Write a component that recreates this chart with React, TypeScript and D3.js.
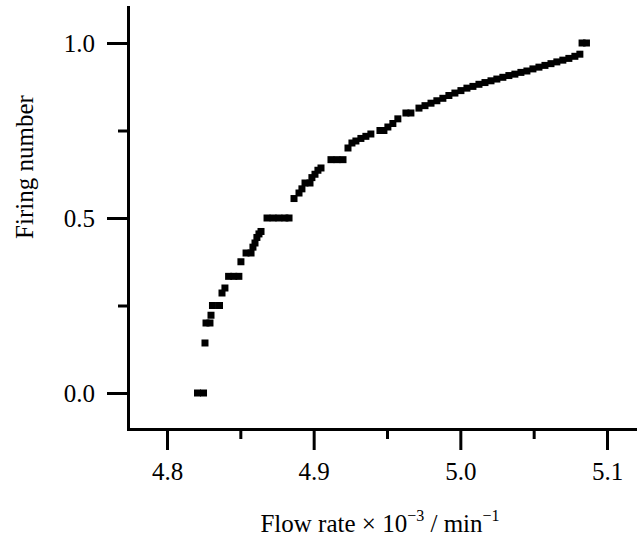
import React, { useEffect, useRef } from 'react';
import * as d3 from 'd3';

// flow rate (x 10^-3 / min^-1) and firing number
const flowRate = [
  4.8208, 4.8249, 4.8259, 4.8266, 4.8293, 4.8300, 4.8310, 4.8358, 4.8375, 4.8395,
  4.8420, 4.8455, 4.8490, 4.8504, 4.8539, 4.8573, 4.8586, 4.8600, 4.8613, 4.8627,
  4.8641, 4.8682, 4.8723, 4.8763, 4.8804, 4.8832, 4.8866, 4.8900, 4.8920, 4.8941,
  4.8975, 4.8988, 4.9009, 4.9029, 4.9050, 4.9118, 4.9159, 4.9200, 4.9234, 4.9261,
  4.9288, 4.9322, 4.9356, 4.9390, 4.9452, 4.9479, 4.9506, 4.9540, 4.9574, 4.9629,
  4.9663, 4.9718, 4.9759, 4.9800, 4.9840, 4.9881, 4.9922, 4.9963, 5.0004, 5.0045,
  5.0086, 5.0127, 5.0168, 5.0209, 5.0249, 5.0290, 5.0331, 5.0372, 5.0413, 5.0454,
  5.0495, 5.0536, 5.0577, 5.0618, 5.0658, 5.0699, 5.0740, 5.0781, 5.0815, 5.0830,
  5.0860,
];
const firingNumber = [
  0, 0, 0.1429, 0.2, 0.2, 0.2222, 0.25, 0.25, 0.2857, 0.3,
  0.3333, 0.3333, 0.3333, 0.375, 0.4, 0.4, 0.4167, 0.4286, 0.4444, 0.4545,
  0.4615, 0.5, 0.5, 0.5, 0.5, 0.5, 0.5556, 0.5714, 0.5833, 0.6,
  0.6, 0.6154, 0.625, 0.6364, 0.6429, 0.6667, 0.6667, 0.6667, 0.7, 0.7143,
  0.72, 0.7273, 0.7333, 0.74, 0.75, 0.75, 0.76, 0.77, 0.7833, 0.8,
  0.8, 0.814, 0.821, 0.828, 0.835, 0.842, 0.85, 0.857, 0.864, 0.871,
  0.876, 0.882, 0.887, 0.892, 0.897, 0.902, 0.907, 0.911, 0.916, 0.92,
  0.926, 0.931, 0.936, 0.941, 0.946, 0.951, 0.956, 0.962, 0.968, 1.0,
  1.0,
];

const xMajor = [4.8, 4.9, 5.0, 5.1];
const xMinor = [4.85, 4.95, 5.05];
const yMajor = [0, 0.5, 1.0];
const yMinor = [0.25, 0.75];

const App = () => {
  const chartRef = useRef(null);

  useEffect(() => {
    const svg = d3.select(chartRef.current);
    svg.selectAll('*').remove();

    const font = '"Liberation Serif", "Times New Roman", serif';
    const fs = 25;

    const x = d3.scaleLinear().domain([4.8, 5.1]).range([167, 607]);
    const y = d3.scaleLinear().domain([0, 1]).range([393, 43]);

    const left = 128;
    const bottom = 429;
    const xAxisScale = x.copy().domain([x.invert(left), x.invert(637)]).range([left, 637]);
    const yAxisScale = y.copy().domain([y.invert(bottom), y.invert(7)]).range([bottom, 7]);

    const pts = flowRate.map((v, i) => ({ v, f: firingNumber[i] }));

    svg
      .append('g')
      .selectAll('rect')
      .data(pts)
      .enter()
      .append('rect')
      .attr('x', (d) => x(d.v) - 3.5)
      .attr('y', (d) => y(d.f) - 3.5)
      .attr('width', 7)
      .attr('height', 7)
      .attr('fill', '#000');

    const styleAxis = (g) => {
      g.selectAll('path').attr('stroke', '#000').attr('stroke-width', 3).attr('stroke-linecap', 'square');
      g.selectAll('line').attr('stroke', '#000').attr('stroke-width', 3);
      g.selectAll('text').attr('font-family', font).attr('font-size', fs).attr('fill', '#000');
    };

    // bottom axis
    svg
      .append('g')
      .attr('transform', `translate(0,${bottom})`)
      .call(d3.axisBottom(xAxisScale).tickValues(xMinor).tickSize(10).tickSizeOuter(0).tickFormat(() => ''))
      .call(styleAxis);
    svg
      .append('g')
      .attr('transform', `translate(0,${bottom})`)
      .call(d3.axisBottom(xAxisScale).tickValues(xMajor).tickSize(21).tickSizeOuter(0).tickPadding(12).tickFormat(d3.format('.1f')))
      .call(styleAxis);

    // left axis
    svg
      .append('g')
      .attr('transform', `translate(${left},0)`)
      .call(d3.axisLeft(yAxisScale).tickValues(yMinor).tickSize(10).tickSizeOuter(0).tickFormat(() => ''))
      .call(styleAxis);
    svg
      .append('g')
      .attr('transform', `translate(${left},0)`)
      .call(d3.axisLeft(yAxisScale).tickValues(yMajor).tickSize(21).tickSizeOuter(0).tickPadding(12).tickFormat(d3.format('.1f')))
      .call(styleAxis);

    // axis titles
    const xt = svg
      .append('text')
      .attr('x', 380)
      .attr('y', 532)
      .attr('text-anchor', 'middle')
      .attr('font-family', font)
      .attr('font-size', fs)
      .attr('fill', '#000');
    xt.append('tspan').text('Flow rate \u00d7 10');
    xt.append('tspan').attr('dy', -11).attr('font-size', 16).text('\u22123');
    xt.append('tspan').attr('dy', 11).text(' / min');
    xt.append('tspan').attr('dy', -11).attr('font-size', 16).text('\u22121');

    svg
      .append('text')
      .attr('transform', 'translate(33,167) rotate(-90)')
      .attr('text-anchor', 'middle')
      .attr('font-family', font)
      .attr('font-size', fs)
      .attr('fill', '#000')
      .text('Firing number');
  }, []);

  return (
    <svg
      ref={chartRef}
      width={637}
      height={545}
      style={{ position: 'absolute', left: 0, top: 0, background: '#fff' }}
    ></svg>
  );
};

export default App;
